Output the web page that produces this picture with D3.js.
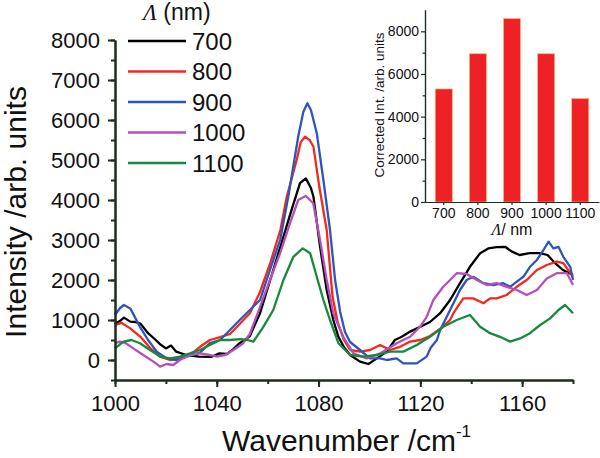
<!DOCTYPE html>
<html>
<head>
<meta charset="utf-8">
<script src="https://cdn.jsdelivr.net/npm/d3@7"></script>
<style>
  body { margin: 0; background: #fff; }
  svg { display: block; font-family: "Liberation Sans", Arial, sans-serif; }
</style>
</head>
<body>
<div id="vis"></div>
<script>
// series: [wavenumber, intensity]
const wavelengths = ["700", "800", "900", "1000", "1100"];
const seriesColors = ["#000000", "#f5281c", "#2f55bb", "#b64fb9", "#168a3a"];

const s700 = [[1000, 900], [1002, 980], [1003.5, 1060], [1006, 960], [1008, 950], [1010, 910], [1013, 670], [1016, 500],
  [1018, 380], [1020, 290], [1022, 360], [1024, 210], [1028, 125], [1033, 85], [1038, 80], [1041, 165], [1044, 150],
  [1046.5, 270], [1049, 420], [1051, 500], [1053, 600], [1057, 1170], [1061, 2000], [1065, 2830], [1069, 3670],
  [1072.7, 4420], [1075, 4540], [1077, 4300], [1078, 4080], [1080.6, 2830], [1083.2, 1750], [1085.8, 1000], [1087.8, 580],
  [1090, 320], [1092.4, 125], [1096.3, -40], [1099.6, -100], [1102.9, 40], [1106.8, 210], [1110, 500], [1112.7, 580],
  [1116, 710], [1120, 830], [1123.8, 950], [1127.8, 1170], [1131.7, 1500], [1135.6, 1920], [1139.5, 2330], [1143.5, 2670],
  [1146.7, 2790], [1150, 2820], [1153.3, 2830], [1156, 2710], [1159, 2625], [1163, 2670], [1167, 2670], [1170, 2625],
  [1173, 2420], [1176, 2250], [1180, 2125]];

const s800 = [[1000, 875], [1002.5, 930], [1006, 790], [1010, 580], [1014, 290], [1017.7, 85], [1021.6, 0], [1025.5, 40],
  [1029.5, 125], [1033.4, 330], [1037.3, 500], [1041.3, 570], [1045.2, 650], [1049, 900], [1053, 1170], [1057, 1700],
  [1061, 2420], [1065, 3250], [1067.5, 4080], [1071.4, 5000], [1073, 5450], [1074.7, 5580], [1076.5, 5500], [1078, 5330],
  [1080.3, 4330], [1083.2, 3250], [1085.5, 1580], [1087.6, 920], [1090, 500], [1092.4, 250], [1096.3, 210], [1100.2, 250],
  [1104.2, 375], [1108.1, 250], [1112, 330], [1116, 460], [1120, 500], [1123.8, 600], [1127.8, 780], [1131.7, 1000],
  [1133, 1170], [1136.9, 1540], [1140.8, 1540], [1144.8, 1420], [1147.4, 1540], [1150, 1540], [1153.9, 1625],
  [1157.9, 1830], [1161.8, 2000], [1165.8, 2250], [1169.7, 2375], [1173.6, 2460], [1176.2, 2420], [1180, 2080]];

const s900 = [[1000, 1125], [1002, 1300], [1003.5, 1375], [1006, 1290], [1009.8, 830], [1013, 500], [1016.4, 210],
  [1020.3, 40], [1024.2, 0], [1028.2, 85], [1033.4, 185], [1037.3, 420], [1041.3, 500], [1045.2, 750], [1049, 1000],
  [1053, 1250], [1057, 1500], [1060.9, 2250], [1064.9, 3000], [1068.1, 4080], [1072, 5580], [1074, 6200], [1075.6, 6420],
  [1077, 6250], [1079.3, 5670], [1081.9, 4500], [1084.5, 3250], [1086.5, 2000], [1088.5, 1200], [1090.4, 700],
  [1092.4, 450], [1096.3, 250], [1100.2, 40], [1104.2, 40], [1106.8, 0], [1110.7, 40], [1113.3, -85], [1118.6, -85],
  [1122.5, 85], [1124, 300], [1126.5, 500], [1127.8, 750], [1131.7, 1250], [1135.6, 1750], [1138.2, 2000], [1140.8, 2080],
  [1144.8, 1920], [1148.7, 1875], [1152.6, 1920], [1155.3, 1830], [1157.9, 1960], [1160.5, 2080], [1163.1, 2330],
  [1165.8, 2500], [1168.4, 2750], [1170.4, 2960], [1172.3, 2790], [1174.3, 2830], [1176.2, 2580], [1178.9, 2330],
  [1180, 2000]];

const s1000 = [[1000, 420], [1002, 460], [1004, 430], [1007.2, 290], [1011.1, 125], [1015.1, -40], [1017.7, -165],
  [1020.3, -100], [1022.9, -125], [1025.5, 0], [1029.5, 125], [1033.4, 165], [1037.3, 125], [1040, 85], [1043.2, 125],
  [1046.5, 250], [1050.4, 420], [1053, 650], [1057, 1330], [1060.9, 2000], [1064.9, 2670], [1068.8, 3420], [1072, 4000],
  [1075, 4100], [1077.9, 3920], [1080.6, 3000], [1083.2, 2000], [1085.8, 1170], [1089.7, 580], [1093.7, 165],
  [1098.9, 40], [1104.2, 165], [1110.7, 420], [1116, 580], [1119.9, 830], [1122.5, 1080], [1125.1, 1500], [1129, 1830],
  [1131.7, 2000], [1134.3, 2170], [1138.2, 2150], [1142.2, 2000], [1146.1, 1875], [1150, 1920], [1153.9, 1830],
  [1157.9, 1750], [1161.8, 1625], [1165.8, 1750], [1169.7, 2040], [1173.6, 2170], [1177.6, 2170], [1180, 1875]];

const s1100 = [[1000, 290], [1003.3, 460], [1006.5, 500], [1009.8, 420], [1013.8, 250], [1017.7, 85], [1021.6, 40],
  [1025.5, 85], [1029.5, 165], [1033.4, 250], [1037.3, 375], [1041.3, 500], [1045.2, 500], [1049.1, 520], [1052, 500],
  [1054.4, 460], [1058.3, 830], [1062.2, 1250], [1066.2, 2000], [1070.1, 2580], [1073.8, 2790], [1076.7, 2670],
  [1079.3, 2080], [1081.9, 1500], [1084.5, 1000], [1087.8, 420], [1092.4, 125], [1097.6, 85], [1102.9, 125], [1108.1, 210],
  [1113.3, 210], [1118.6, 375], [1123.8, 580], [1129, 830], [1134.3, 1000], [1139.5, 1125], [1143.5, 830], [1147.4, 670],
  [1151.3, 580], [1155.3, 460], [1159.2, 540], [1163.1, 670], [1167.1, 875], [1171, 1040], [1174.3, 1250], [1176.9, 1375],
  [1180, 1170]];

const allSeries = [s700, s800, s900, s1000, s1100];

// inset bars
const correctedInt = [5300, 6950, 8600, 6950, 4850];

const mainXTicks = [1000, 1040, 1080, 1120, 1160];
const mainYTicks = [0, 1000, 2000, 3000, 4000, 5000, 6000, 7000, 8000];
const insetYTicks = [0, 2000, 4000, 6000, 8000];

const W = 600, H = 458;
const axisColor = "#1b2d1d";

const svg = d3.select("#vis").append("svg")
  .attr("width", W)
  .attr("height", H);

// ---- main chart ----
const x = d3.scaleLinear().domain([1000, 1180]).range([115, 573]);
const y = d3.scaleLinear().domain([-500, 8000]).range([380, 40]);

const line = d3.line()
  .x(d => x(d[0]))
  .y(d => y(d[1]));

allSeries.forEach((s, i) => {
  svg.append("path")
    .datum(s)
    .attr("fill", "none")
    .attr("stroke", seriesColors[i])
    .attr("stroke-width", 2.3)
    .attr("stroke-linejoin", "round")
    .attr("d", line);
});

function styleAxis(g, fontSize, width) {
  g.select(".domain").attr("stroke", axisColor).attr("stroke-width", width);
  g.selectAll(".tick line").attr("stroke", axisColor).attr("stroke-width", width);
  g.selectAll(".tick text").attr("fill", "#111").style("font-size", fontSize + "px");
}

// minor ticks first
svg.append("g")
  .attr("transform", `translate(0,${y(-500)})`)
  .call(d3.axisBottom(x).tickValues(d3.range(1000, 1181, 20)).tickSize(4).tickSizeOuter(0).tickFormat(""))
  .call(g => styleAxis(g, 22, 2));
svg.append("g")
  .attr("transform", `translate(${x(1000)},0)`)
  .call(d3.axisLeft(y).tickValues(d3.range(-500, 8001, 500)).tickSize(4).tickSizeOuter(0).tickFormat(""))
  .call(g => styleAxis(g, 22, 2));

svg.append("g")
  .attr("transform", `translate(0,${y(-500)})`)
  .call(d3.axisBottom(x).tickValues(mainXTicks).tickSize(7).tickSizeOuter(0).tickPadding(8).tickFormat(d3.format("d")))
  .call(g => styleAxis(g, 22, 2));
svg.append("g")
  .attr("transform", `translate(${x(1000)},0)`)
  .call(d3.axisLeft(y).tickValues(mainYTicks).tickSize(7).tickSizeOuter(0).tickPadding(8).tickFormat(d3.format("d")))
  .call(g => styleAxis(g, 22, 2));

const xt = svg.append("text")
  .attr("x", 222)
  .attr("y", 451)
  .attr("fill", "#111")
  .style("font-size", "30px")
  .text("Wavenumber /cm");
xt.append("tspan")
  .attr("dy", -14)
  .style("font-size", "17px")
  .text("-1");

svg.append("text")
  .attr("transform", "rotate(-90)")
  .attr("x", -212)
  .attr("y", 26)
  .attr("text-anchor", "middle")
  .attr("fill", "#111")
  .style("font-size", "30px")
  .text("Intensity /arb. units");

// legend
const legTitle = svg.append("text")
  .attr("x", 143)
  .attr("y", 20)
  .attr("fill", "#111")
  .style("font-size", "23px");
legTitle.append("tspan")
  .style("font-family", "'Liberation Serif', serif")
  .style("font-style", "italic")
  .text("Λ");
legTitle.append("tspan").text(" (nm)");

const legY = d3.scalePoint().domain(wavelengths).range([41, 163]);
const leg = svg.append("g");
wavelengths.forEach((w, i) => {
  leg.append("line")
    .attr("x1", 128).attr("x2", 186)
    .attr("y1", legY(w)).attr("y2", legY(w))
    .attr("stroke", seriesColors[i])
    .attr("stroke-width", 2.5);
  leg.append("text")
    .attr("x", 192)
    .attr("y", legY(w) + 8.5)
    .attr("fill", "#111")
    .style("font-size", "24px")
    .text(w);
});

// ---- inset bar chart ----
const xi = d3.scaleBand().domain(wavelengths).range([425, 599]).paddingInner(0.5).paddingOuter(0.3);
const yi = d3.scaleLinear().domain([0, 9000]).range([202, 10]);

svg.append("g")
  .selectAll("rect")
  .data(correctedInt)
  .join("rect")
  .attr("x", (d, i) => xi(wavelengths[i]))
  .attr("y", d => yi(d))
  .attr("width", xi.bandwidth())
  .attr("height", d => yi(0) - yi(d))
  .attr("fill", "#ee2226")
  .attr("stroke", "#f8b870")
  .attr("stroke-width", 0.7);

svg.append("g")
  .attr("transform", `translate(${xi.range()[0]},0)`)
  .call(d3.axisLeft(yi).tickValues(d3.range(1000, 9000, 2000)).tickSize(2.5).tickSizeOuter(0).tickFormat(""))
  .call(g => styleAxis(g, 14, 1.2));
svg.append("g")
  .attr("transform", `translate(${xi.range()[0]},0)`)
  .call(d3.axisLeft(yi).tickValues(insetYTicks).tickSize(4).tickSizeOuter(0).tickPadding(2).tickFormat(d3.format("d")))
  .call(g => styleAxis(g, 14, 1.2));
svg.append("g")
  .attr("transform", `translate(0,${yi(0)})`)
  .call(d3.axisBottom(xi).tickSize(3).tickSizeOuter(0).tickPadding(3))
  .call(g => styleAxis(g, 14, 1.2));

const xiTitle = svg.append("text")
  .attr("x", 512)
  .attr("y", 235)
  .attr("text-anchor", "middle")
  .attr("fill", "#111")
  .style("font-size", "16px");
xiTitle.append("tspan")
  .style("font-family", "'Liberation Serif', serif")
  .style("font-style", "italic")
  .text("Λ");
xiTitle.append("tspan").text("/ nm");

svg.append("text")
  .attr("transform", "rotate(-90)")
  .attr("x", -105)
  .attr("y", 384)
  .attr("text-anchor", "middle")
  .attr("fill", "#111")
  .style("font-size", "13.5px")
  .text("Corrected Int. /arb. units");
</script>
</body>
</html>
